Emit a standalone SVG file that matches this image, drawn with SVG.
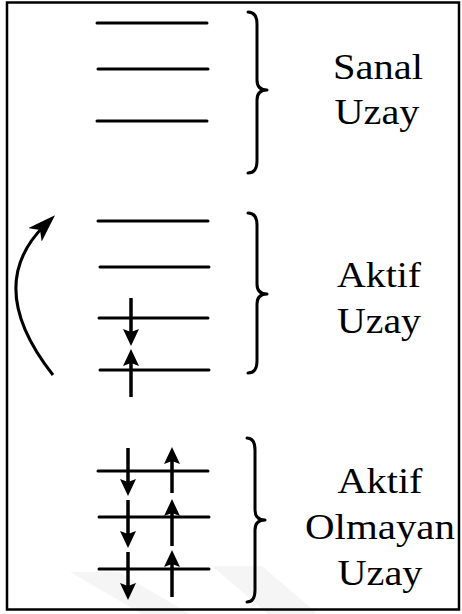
<svg xmlns="http://www.w3.org/2000/svg" width="462" height="614" viewBox="0 0 462 614">
  <style>
    .lvl { stroke: #000; stroke-width: 3; stroke-linecap: round; fill: none; }
    .brace { stroke: #000; stroke-width: 3; fill: none; stroke-linecap: round; stroke-linejoin: round; }
    .spin { stroke: #000; stroke-width: 3.5; fill: none; }
    .wm { fill: #f5f5f5; }
    .lbl { font-family: "Liberation Serif", "Times New Roman", serif; font-size: 36px; text-anchor: middle; fill: #000; }
  </style>
  <defs>
    <marker id="head" viewBox="0 0 17 16" refX="8" refY="8" markerWidth="17" markerHeight="16" markerUnits="userSpaceOnUse" orient="auto">
      <path d="M0,0 L17,8 L0,16 L3,8 z" fill="#000"/>
    </marker>
    <marker id="bighead" viewBox="0 0 28 19" refX="14" refY="9.5" markerWidth="28" markerHeight="19" markerUnits="userSpaceOnUse" orient="auto">
      <path d="M0,0 L28,9.5 L0,19 L7,9.5 z" fill="#000"/>
    </marker>
  </defs>

  <!-- faint background stripes -->
  <g id="stripes">
    <polygon class="wm" points="70,572 118,572 190,614 142,614"/>
    <polygon class="wm" points="212,566 262,566 318,614 268,614"/>
  </g>

  <!-- frame -->
  <rect x="7" y="2.5" width="452" height="607" fill="none" stroke="#000" stroke-width="2.5"/>

  <!-- virtual space: three empty levels -->
  <g id="sanal-uzay">
    <line class="lvl" x1="97" y1="23" x2="207" y2="23"/>
    <line class="lvl" x1="98" y1="69" x2="208" y2="69"/>
    <line class="lvl" x1="97" y1="121" x2="207" y2="121"/>
    <path class="brace" d="M248,12 Q257,12 257,24 L257,80 Q257,90 267,90 Q257,90 257,100 L257,161 Q257,173 248,173"/>
    <text class="lbl" x="378" y="79" textLength="90" lengthAdjust="spacingAndGlyphs">Sanal</text>
    <text class="lbl" x="377" y="124" textLength="85" lengthAdjust="spacingAndGlyphs">Uzay</text>
  </g>

  <!-- active space: four levels -->
  <g id="aktif-uzay">
    <line class="lvl" x1="98" y1="221" x2="208" y2="221"/>
    <line class="lvl" x1="100" y1="267" x2="209" y2="267"/>
    <line class="lvl" x1="99" y1="318" x2="208" y2="318"/>
    <line class="lvl" x1="100" y1="370" x2="209" y2="370"/>
    <path class="brace" d="M248,213 Q257,213 257,225 L257,284 Q257,294 267,294 Q257,294 257,304 L257,361 Q257,373 248,373"/>
    <text class="lbl" x="379" y="287" textLength="84" lengthAdjust="spacingAndGlyphs">Aktif</text>
    <text class="lbl" x="379" y="333" textLength="84" lengthAdjust="spacingAndGlyphs">Uzay</text>
  </g>

  <!-- inactive space: three doubly occupied levels -->
  <g id="aktif-olmayan-uzay">
    <line class="lvl" x1="98" y1="471" x2="208" y2="471"/>
    <line class="lvl" x1="99" y1="517" x2="209" y2="517"/>
    <line class="lvl" x1="99" y1="569" x2="209" y2="569"/>
    <path class="brace" d="M247,438 Q255,438 255,450 L255,510 Q255,520 265,520 Q255,520 255,530 L255,590 Q255,602 247,602"/>
    <text class="lbl" x="380" y="493" textLength="85" lengthAdjust="spacingAndGlyphs">Aktif</text>
    <text class="lbl" x="380" y="539" textLength="150" lengthAdjust="spacingAndGlyphs">Olmayan</text>
    <text class="lbl" x="380" y="585" textLength="85" lengthAdjust="spacingAndGlyphs">Uzay</text>
  </g>

  <!-- spin arrows and excitation arrow -->
  <g id="connectors">
    <line class="spin" x1="131" y1="298" x2="131" y2="337" marker-end="url(#head)"/>
    <line class="spin" x1="131" y1="397" x2="131" y2="358" marker-end="url(#head)"/>

    <line class="spin" x1="128" y1="448" x2="128" y2="487" marker-end="url(#head)"/>
    <line class="spin" x1="128" y1="500" x2="128" y2="539" marker-end="url(#head)"/>
    <line class="spin" x1="128" y1="552" x2="128" y2="591" marker-end="url(#head)"/>

    <line class="spin" x1="172" y1="493" x2="172" y2="456" marker-end="url(#head)"/>
    <line class="spin" x1="172" y1="546" x2="172" y2="508" marker-end="url(#head)"/>
    <line class="spin" x1="172" y1="597" x2="172" y2="559" marker-end="url(#head)"/>

    <path d="M53,375 Q-17,286 45,225" stroke="#000" stroke-width="3" fill="none" marker-end="url(#bighead)"/>
  </g>
</svg>
